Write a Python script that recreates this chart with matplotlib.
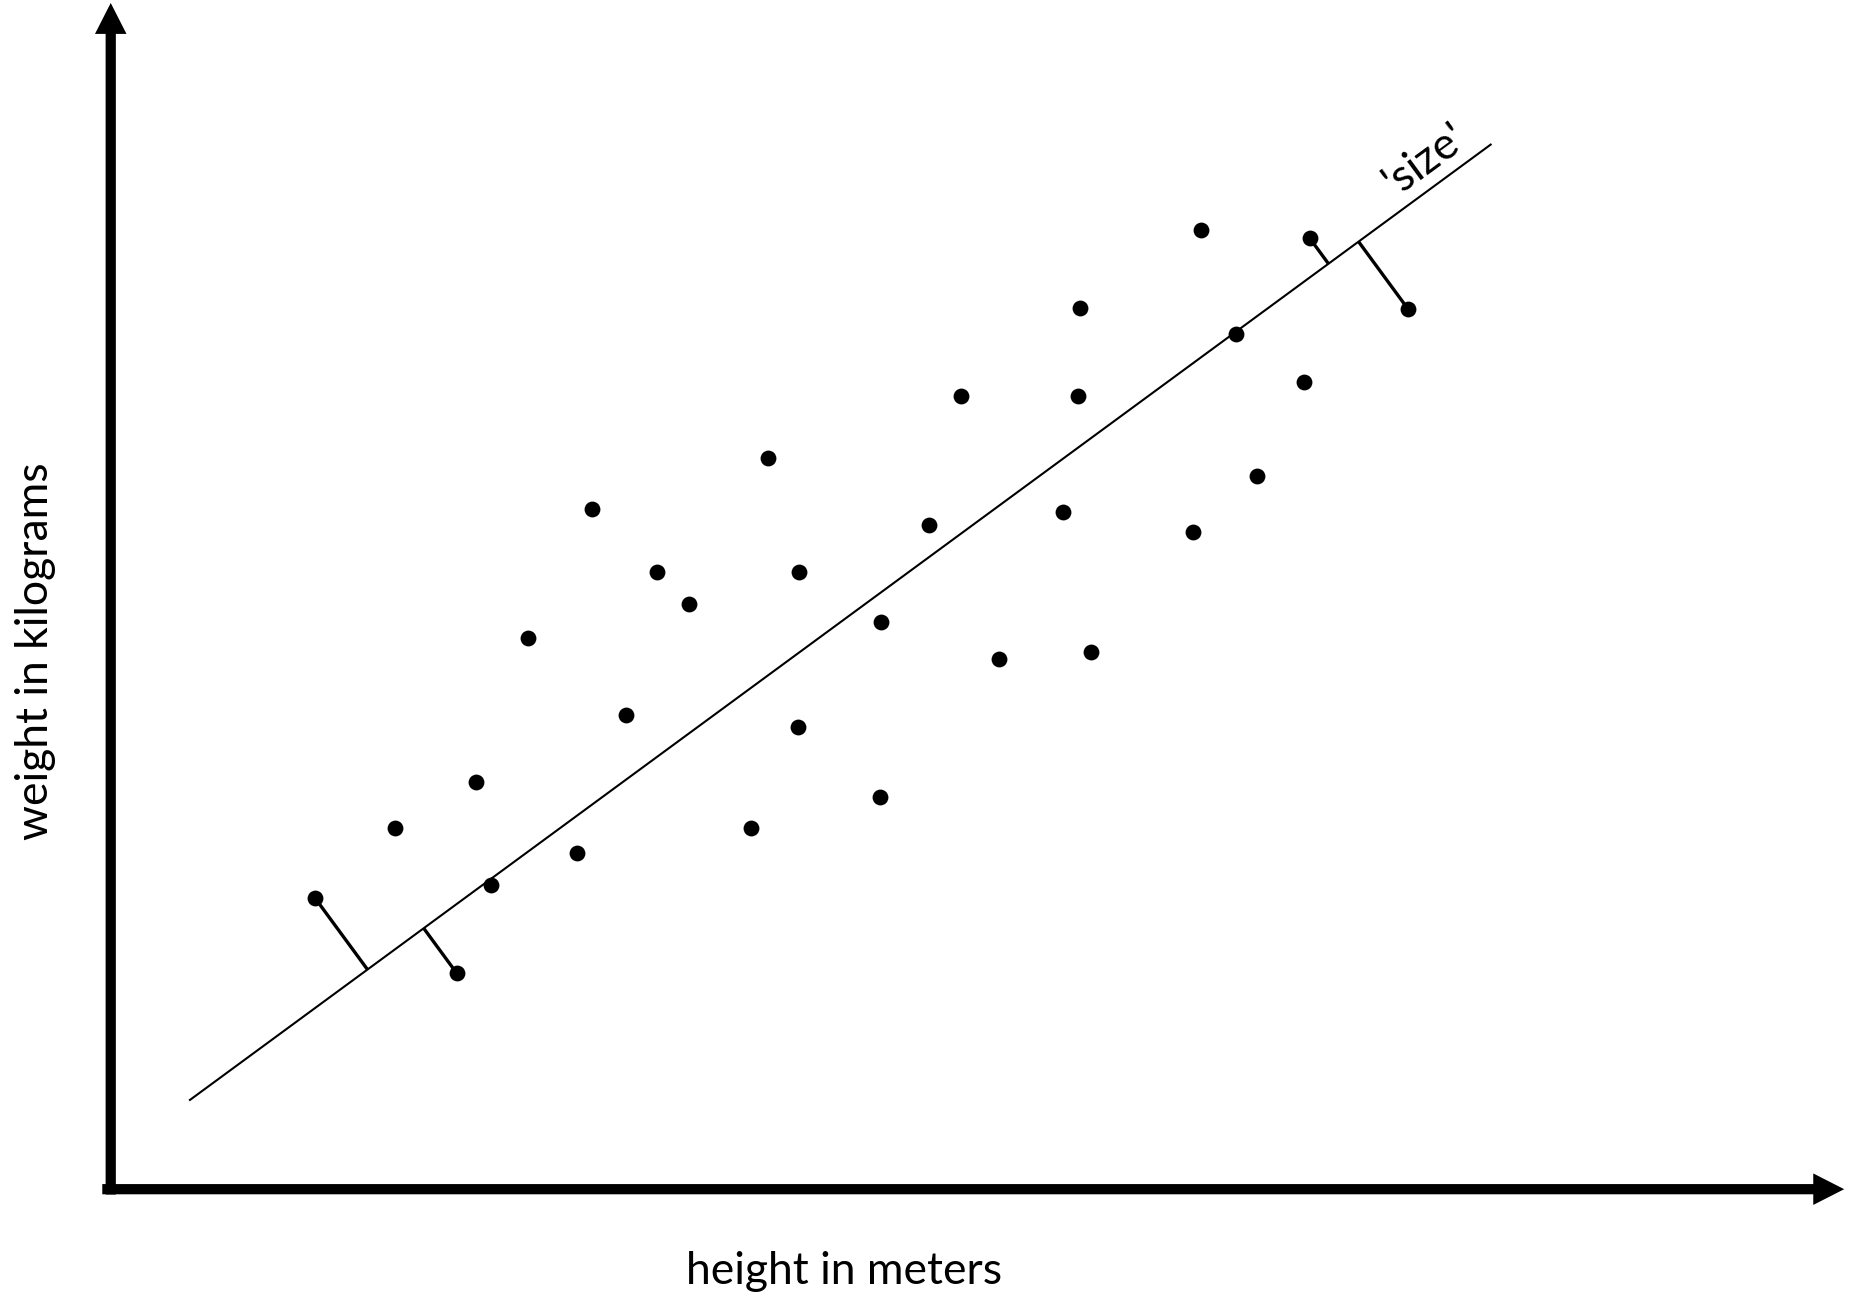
import numpy as np
import matplotlib
matplotlib.use("Agg")
import matplotlib.pyplot as plt
from matplotlib.patches import FancyArrow

# Data (in reference image coordinates, 1568x1096 space; y downward)
height_x = [265, 332, 400, 413, 384, 444, 485, 498, 526, 552, 579, 646, 631, 672,
            671, 741, 740, 781, 808, 840, 894, 906, 908, 917, 1003, 1010, 1039,
            1057, 1096, 1101, 1184]
weight_y = [755, 696, 657, 744, 818, 536, 717, 428, 601, 481, 508, 385, 696, 481,
            611, 523, 670, 441, 333, 554, 430, 333, 259, 548, 447, 193, 281,
            400, 321, 200, 260]
# indices of points whose projection onto the 'size' line is drawn
projected = [0, 4, 29, 30]
# the 'size' line end points
line_x = [159, 1254]
line_y = [925, 121]

W, H = 1568, 1096
plt.rcParams['font.family'] = ['Lato', 'DejaVu Sans']

fig = plt.figure(figsize=(18.65, 13.04), dpi=100)
ax = fig.add_axes([0, 0, 1, 1])
ax.set_xlim(0, W)
ax.set_ylim(H, 0)
ax.axis('off')

# axes arrows
ax.add_patch(FancyArrow(93.1, 1004, 0, 2.5 - 1004, width=8.6, head_width=26.5,
                        head_length=26, length_includes_head=True,
                        color='black', lw=0))
ax.add_patch(FancyArrow(86.0, 999.5, 1550.5 - 86.0, 0, width=8.6, head_width=26.5,
                        head_length=26, length_includes_head=True,
                        color='black', lw=0))

# size line
ax.plot(line_x, line_y, color='black', lw=1.5, solid_capstyle='butt')

# projections
p0 = np.array([line_x[0], line_y[0]], float)
u = np.array([line_x[1] - line_x[0], line_y[1] - line_y[0]], float)
u /= np.linalg.norm(u)
for i in projected:
    p = np.array([height_x[i], weight_y[i]], float)
    t = np.dot(p - p0, u)
    foot = p0 + t * u
    ax.plot([p[0], foot[0]], [p[1], foot[1]], color='black', lw=2.4,
            solid_capstyle='butt')

# points
ax.scatter(height_x, weight_y, s=130, color='black', zorder=3, linewidths=0)

# label for the line
ang = np.degrees(np.arctan2(-(line_y[1] - line_y[0]), line_x[1] - line_x[0]))
ax.text(1198, 134, "'size'", rotation=ang, rotation_mode='anchor',
        ha='center', va='center', fontsize=32, color='black')

ax.text(710, 1069, 'height in meters', ha='center', va='center', fontsize=32)
ax.text(30, 547, 'weight in kilograms', ha='center', va='center', fontsize=32,
        rotation=90)

fig.savefig('out.png', dpi=100)
